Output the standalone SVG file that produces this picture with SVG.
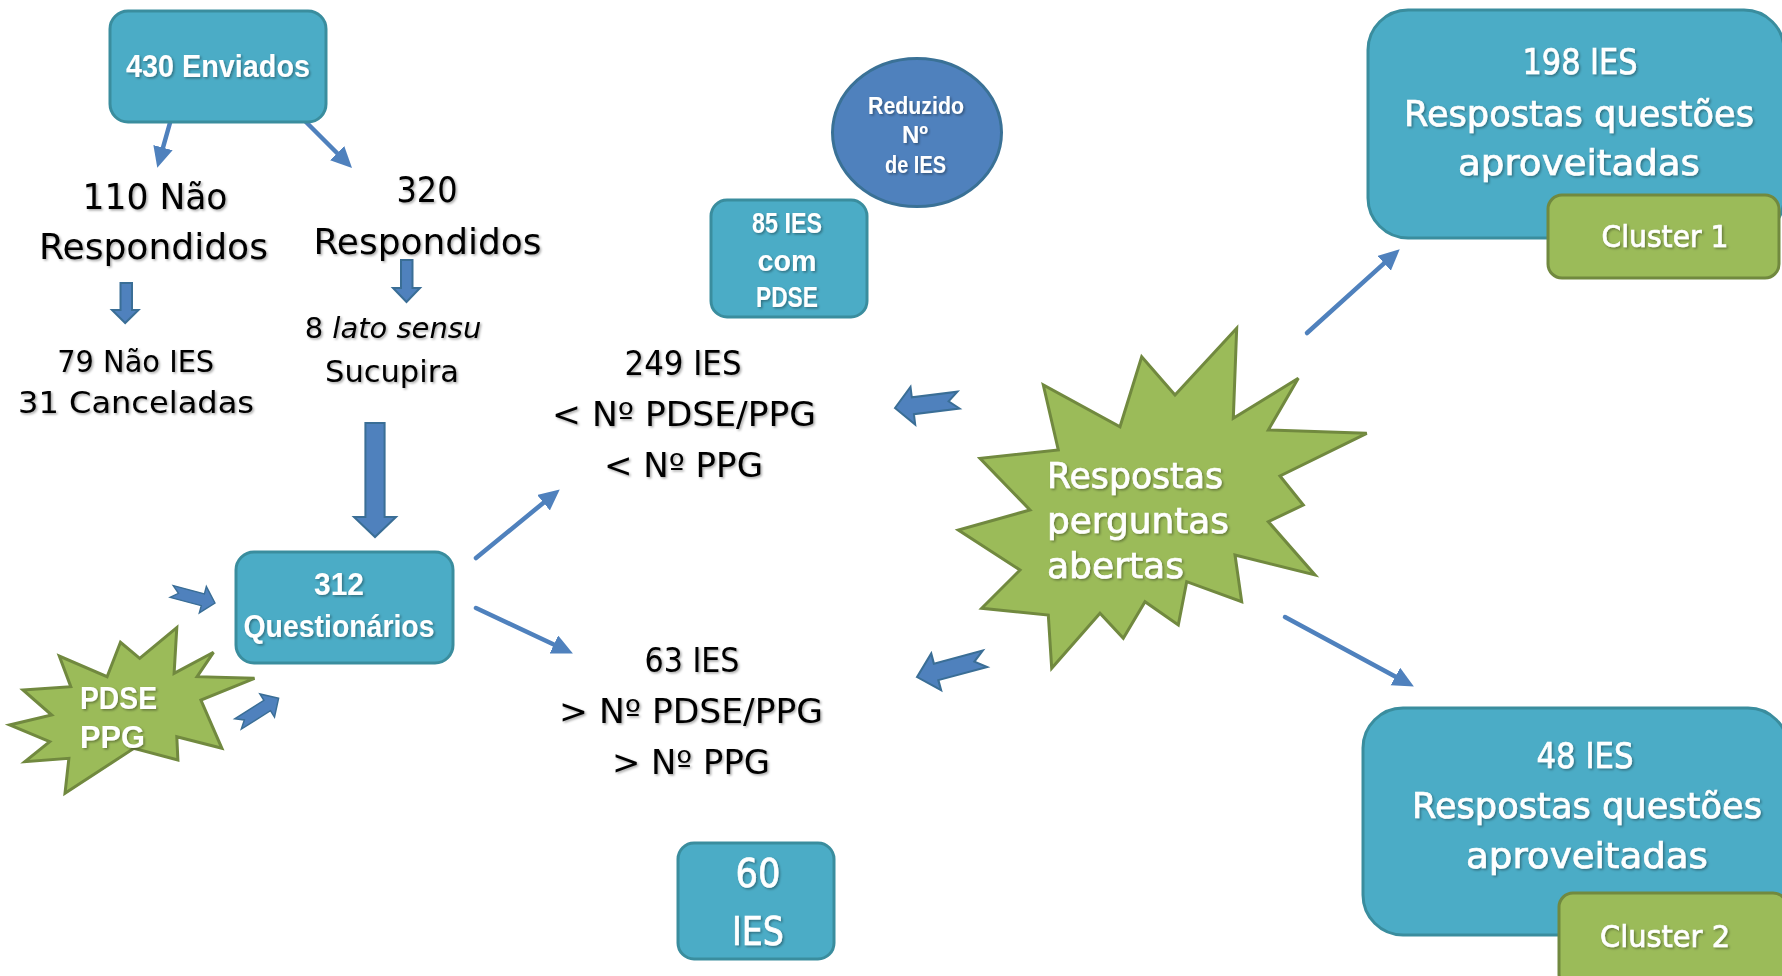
<svg xmlns="http://www.w3.org/2000/svg" xmlns:xlink="http://www.w3.org/1999/xlink" width="1782" height="976" viewBox="0 0 1782 976">
<defs>
<style>
.box{fill:#4BACC6;stroke:#3A8D9E;stroke-width:3}
.grn{fill:#9BBB59;stroke:#71893F;stroke-width:3;stroke-linejoin:miter}
.blk{font-family:"DejaVu Sans",sans-serif;fill:#000;text-anchor:middle;filter:url(#sh)}
.wb{font-family:"Liberation Sans",Arial,sans-serif;font-weight:bold;fill:#fff;text-anchor:middle;filter:url(#sh)}
.wr{font-family:"DejaVu Sans",sans-serif;fill:#fff;stroke:#fff;stroke-width:0.7;text-anchor:middle;filter:url(#sh)}
.ln{stroke:#4F81BD;stroke-width:4.5;stroke-linecap:round;fill:none;marker-end:url(#ah)}
.blka{fill:#4F81BD;stroke:#3A6E96;stroke-width:2;stroke-linejoin:miter}
</style>
<filter id="sh" x="-10%" y="-30%" width="120%" height="160%">
<feDropShadow dx="1.5" dy="1.5" stdDeviation="0.8" flood-color="#000" flood-opacity="0.35"/>
</filter>
<marker id="ah" markerUnits="userSpaceOnUse" markerWidth="24" markerHeight="22" refX="4" refY="10" orient="auto">
<path d="M0,0 L21,10 L0,20 Z" fill="#4F81BD"/>
</marker>
<path id="notch" d="M0,0 L-18,-19 L-18,-8.5 L-64,-8.5 L-54,0 L-64,8.5 L-18,8.5 L-18,19 Z"/>
</defs>
<rect width="1782" height="976" fill="#fff"/>

<g id="connectors">
<line class="ln" x1="177" y1="98" x2="161.9" y2="151.5"/>
<line class="ln" x1="282" y1="98" x2="340" y2="156"/>
<line class="ln" x1="476" y1="558" x2="546.6" y2="500.2"/>
<line class="ln" x1="476" y1="608" x2="557.5" y2="646.2"/>
<line class="ln" x1="1307" y1="333" x2="1387.1" y2="260.7"/>
<line class="ln" x1="1285" y1="617" x2="1398.9" y2="678.4"/>
<path class="blka" d="M120.5,283 L132,283 L132,310 L138.5,310 L125.2,323 L112,310 L120.5,310 Z"/>
<path class="blka" d="M401,260 L412.5,260 L412.5,288 L420,288 L406.5,302 L393,288 L401,288 Z"/>
<path class="blka" d="M365.4,423 L384.6,423 L384.6,517 L396,517 L375,537 L354,517 L365.4,517 Z"/>
<use xlink:href="#notch" class="blka" transform="translate(895,408) rotate(172.9)"/>
<use xlink:href="#notch" class="blka" transform="translate(917,677) rotate(165) scale(1.1,1)"/>
<use xlink:href="#notch" class="blka" transform="translate(215,603) rotate(14.9) scale(0.7,0.72)"/>
<use xlink:href="#notch" class="blka" transform="translate(278.6,698.3) rotate(-32.3) scale(0.75,0.72)"/>
</g>

<g id="n430">
<rect class="box" x="110" y="11" width="216" height="111" rx="18"/>
<text class="wb" x="218" y="77" font-size="31" textLength="184" lengthAdjust="spacingAndGlyphs">430 Enviados</text>
</g>

<g id="nNaoResp">
<text class="blk" x="155" y="209" font-size="35" textLength="145" lengthAdjust="spacingAndGlyphs">110 Não</text>
<text class="blk" x="153.5" y="259" font-size="35" textLength="229" lengthAdjust="spacingAndGlyphs">Respondidos</text>
</g>

<g id="nResp">
<text class="blk" x="427" y="202" font-size="35" textLength="61" lengthAdjust="spacingAndGlyphs">320</text>
<text class="blk" x="427.5" y="254" font-size="35" textLength="228" lengthAdjust="spacingAndGlyphs">Respondidos</text>
</g>

<g id="nNaoIES">
<text class="blk" x="135.7" y="372" font-size="30" textLength="157" lengthAdjust="spacingAndGlyphs">79 Não IES</text>
<text class="blk" x="136" y="413" font-size="30" textLength="236" lengthAdjust="spacingAndGlyphs">31 Canceladas</text>
</g>

<g id="nLato">
<text class="blk" x="393" y="338" font-size="29">8 <tspan font-style="italic">lato sensu</tspan></text>
<text class="blk" x="392" y="382" font-size="30" textLength="134" lengthAdjust="spacingAndGlyphs">Sucupira</text>
</g>

<g id="n312">
<rect class="box" x="236" y="552" width="217" height="111" rx="18"/>
<text class="wb" x="339" y="595" font-size="32" textLength="50" lengthAdjust="spacingAndGlyphs">312</text>
<text class="wb" x="339" y="637" font-size="32" textLength="191" lengthAdjust="spacingAndGlyphs">Questionários</text>
</g>

<g id="nPDSEPPG">
<polygon class="grn" points="176.8,627.7 174.1,673.3 213.5,652.3 197.1,676.7 254.5,678.3 200.9,700 221.9,748.3 176.8,736.7 177.9,760 133.9,748.3 65,793.3 68.9,758.3 24.9,761.7 49.7,741.7 9.6,725 51.7,715 23,690 70.8,686.7 59.3,656 107.1,676.7 120.5,642.3 139.7,658.3"/>
<text class="wb" x="80" y="709" font-size="32" style="text-anchor:start" textLength="77" lengthAdjust="spacingAndGlyphs">PDSE</text>
<text class="wb" x="80" y="748" font-size="32" style="text-anchor:start" textLength="65" lengthAdjust="spacingAndGlyphs">PPG</text>
</g>

<g id="n249">
<text class="blk" x="683" y="375" font-size="33" textLength="117" lengthAdjust="spacingAndGlyphs">249 IES</text>
<text class="blk" x="684" y="426" font-size="33" textLength="264" lengthAdjust="spacingAndGlyphs">&lt; Nº PDSE/PPG</text>
<text class="blk" x="683.5" y="477" font-size="33" textLength="159" lengthAdjust="spacingAndGlyphs">&lt; Nº PPG</text>
</g>

<g id="n63">
<text class="blk" x="692" y="672" font-size="33" textLength="95" lengthAdjust="spacingAndGlyphs">63 IES</text>
<text class="blk" x="691" y="723" font-size="33" textLength="264" lengthAdjust="spacingAndGlyphs">&gt; Nº PDSE/PPG</text>
<text class="blk" x="691" y="774" font-size="33" textLength="158" lengthAdjust="spacingAndGlyphs">&gt; Nº PPG</text>
</g>

<g id="n85">
<rect class="box" x="711" y="200" width="156" height="117" rx="16"/>
<text class="wb" x="787" y="233" font-size="29" textLength="70" lengthAdjust="spacingAndGlyphs">85 IES</text>
<text class="wb" x="787" y="271" font-size="29" textLength="59" lengthAdjust="spacingAndGlyphs">com</text>
<text class="wb" x="787" y="307" font-size="29" textLength="62" lengthAdjust="spacingAndGlyphs">PDSE</text>
</g>

<g id="nReduzido">
<ellipse cx="917" cy="132.5" rx="84.5" ry="74" fill="#4F81BD" stroke="#3A7196" stroke-width="3"/>
<text class="wb" x="916" y="114" font-size="24" textLength="96" lengthAdjust="spacingAndGlyphs">Reduzido</text>
<text class="wb" x="915" y="143" font-size="24">Nº</text>
<text class="wb" x="915.5" y="173" font-size="24" textLength="61" lengthAdjust="spacingAndGlyphs">de IES</text>
</g>

<g id="n60">
<rect class="box" x="678" y="843" width="156" height="116" rx="16"/>
<text class="wr" x="758" y="887" font-size="39" textLength="45" lengthAdjust="spacingAndGlyphs">60</text>
<text class="wr" x="758" y="945" font-size="39" textLength="52" lengthAdjust="spacingAndGlyphs">IES</text>
</g>

<g id="nRespostas">
<polygon class="grn" points="1236.7,328.3 1233.3,418.3 1298.3,378.3 1268.3,430 1366.7,433.3 1280,476 1303.3,505 1268.3,521.7 1315,575 1235,555 1241.7,601.7 1186.7,581.7 1178.3,625 1145,601.7 1123.3,638.3 1100,613.3 1051.7,668.3 1048.3,615 981.7,608.3 1020,570 958.3,530 1030,510 980,458.3 1058.3,450 1043.3,385 1120,426.7 1141.7,356.7 1175,395"/>
<text class="wr" x="1047" y="488" font-size="35" style="text-anchor:start" textLength="176" lengthAdjust="spacingAndGlyphs">Respostas</text>
<text class="wr" x="1047" y="533" font-size="35" style="text-anchor:start" textLength="182" lengthAdjust="spacingAndGlyphs">perguntas</text>
<text class="wr" x="1047" y="578" font-size="35" style="text-anchor:start" textLength="137" lengthAdjust="spacingAndGlyphs">abertas</text>
</g>

<g id="n198">
<rect class="box" x="1368" y="10" width="416" height="228" rx="40"/>
<text class="wr" x="1580" y="74" font-size="36" textLength="115" lengthAdjust="spacingAndGlyphs">198 IES</text>
<text class="wr" x="1579" y="126" font-size="36" textLength="350" lengthAdjust="spacingAndGlyphs">Respostas questões</text>
<text class="wr" x="1579" y="175" font-size="36" textLength="242" lengthAdjust="spacingAndGlyphs">aproveitadas</text>
</g>

<g id="nCluster1">
<rect class="grn" x="1548" y="195" width="231" height="83" rx="14"/>
<text class="wr" x="1665" y="247" font-size="31" textLength="127" lengthAdjust="spacingAndGlyphs">Cluster 1</text>
</g>

<g id="n48">
<rect class="box" x="1363" y="708" width="425" height="227" rx="40"/>
<text class="wr" x="1585" y="768" font-size="36" textLength="97" lengthAdjust="spacingAndGlyphs">48 IES</text>
<text class="wr" x="1587" y="818" font-size="36" textLength="350" lengthAdjust="spacingAndGlyphs">Respostas questões</text>
<text class="wr" x="1587" y="868" font-size="36" textLength="242" lengthAdjust="spacingAndGlyphs">aproveitadas</text>
</g>

<g id="nCluster2">
<rect class="grn" x="1559" y="893" width="228" height="95" rx="14"/>
<text class="wr" x="1665" y="947" font-size="31" textLength="130" lengthAdjust="spacingAndGlyphs">Cluster 2</text>
</g>
</svg>
